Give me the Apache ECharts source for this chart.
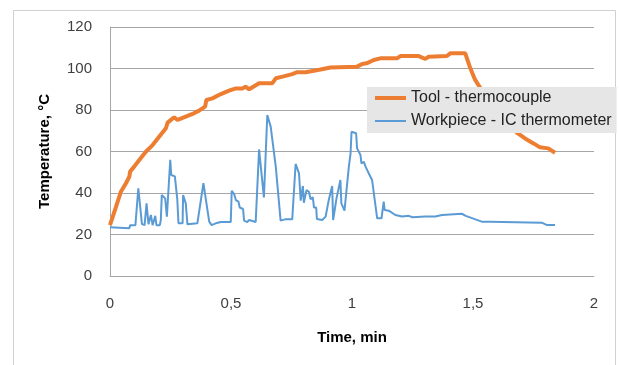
<!DOCTYPE html>
<html lang="en">
<head>
    <meta charset="UTF-8">
    <title>Temperature</title>
    <script src="https://cdn.jsdelivr.net/npm/echarts@6/dist/echarts.min.js"></script>
    <style>
        html, body { margin: 0; padding: 0; background: #fff; }
    </style>
</head>
<body>
<div id="main" style="width:619px;height:365px;"></div>
<script>
    // time (min) and temperature (°C)
    let toolTime = [0, 0.025, 0.045, 0.066, 0.08, 0.083, 0.1, 0.121, 0.148, 0.176, 0.203, 0.231, 0.238, 0.265, 0.279,
        0.313, 0.341, 0.368, 0.393, 0.398, 0.423, 0.458, 0.492, 0.52, 0.547, 0.56, 0.575, 0.616, 0.671, 0.685, 0.713,
        0.753, 0.774, 0.808, 0.843, 0.87, 0.911, 1.021, 1.042, 1.06, 1.09, 1.117, 1.186, 1.2, 1.276, 1.303, 1.317,
        1.392, 1.406, 1.468, 1.489, 1.509, 1.55, 1.6, 1.65, 1.681, 1.715, 1.75, 1.777, 1.811, 1.839];
    let toolTemp = [24.5, 33.4, 40.6, 44.7, 47.9, 50.3, 52.7, 55.9, 59.9, 63.1, 67.1, 71.2, 73.9, 76.5, 75.2,
        76.8, 78.1, 79.7, 81.6, 84.8, 85.6, 87.7, 89.3, 90.4, 90.4, 91.2, 90, 92.9, 92.9, 95.3, 96.1,
        97.3, 98.2, 98.2, 98.9, 99.5, 100.5, 100.9, 102.2, 102.5, 104.1, 104.9, 104.9, 106, 106, 104.6, 105.7,
        106, 107.3, 107.3, 100.1, 94.5, 87, 79, 72.5, 69.1, 66.3, 63.9, 62, 61.5, 59.4];

    let workTime = [0, 0.08, 0.083, 0.105, 0.117, 0.132, 0.143, 0.151, 0.159, 0.169, 0.176, 0.187, 0.192, 0.206,
        0.21, 0.214, 0.228, 0.235, 0.249, 0.253, 0.268, 0.278, 0.283, 0.3, 0.302, 0.313, 0.32, 0.361, 0.386, 0.41,
        0.42, 0.437, 0.458, 0.499, 0.503, 0.513, 0.52, 0.531, 0.536, 0.55, 0.554, 0.567, 0.575, 0.602, 0.616, 0.636,
        0.65, 0.664, 0.685, 0.705, 0.723, 0.753, 0.767, 0.781, 0.788, 0.797, 0.801, 0.808, 0.812, 0.822, 0.829,
        0.838, 0.843, 0.852, 0.855, 0.877, 0.891, 0.904, 0.918, 0.922, 0.936, 0.952, 0.956, 0.969, 0.987, 0.994,
        0.998, 1.017, 1.021, 1.035, 1.039, 1.049, 1.056, 1.069, 1.083, 1.094, 1.104, 1.122, 1.131, 1.135, 1.152,
        1.179, 1.207, 1.234, 1.25, 1.303, 1.344, 1.372, 1.454, 1.47, 1.536, 1.571, 1.784, 1.804, 1.839];
    let workTemp = [23.5, 23, 24.5, 24.5, 42.3, 25, 24.5, 35, 25, 29.4, 24.5, 29, 24.5, 24.5,
        27, 39, 37.4, 28.6, 56, 48.7, 48, 37, 25.4, 25.4, 39, 35, 24.9, 25.4, 44.7, 26.2,
        24.5, 25.4, 26, 26, 41.1, 39.5, 36.6, 35.8, 33, 32.3, 26.7, 26, 27, 26, 61, 37.9,
        77.6, 72, 52.7, 26.7, 27.3, 27.3, 54, 49.5, 36.3, 43.4, 35.3, 35.3, 41.4, 40.6, 37,
        38, 33, 33, 27.5, 27, 28.6, 36.6, 43.4, 27, 37.4, 46.3, 35, 31.5, 52.7, 59,
        69.5, 68.8, 61.5, 58.3, 54.3, 55, 52.7, 49.5, 46.3, 36.6, 27.8, 27.8, 35.8, 31.8, 31.5,
        29.4, 28.7, 29, 28.3, 28.7, 28.7, 29.4, 30, 29, 26.2, 26.2, 25.7, 24.6, 24.6];

    let seriesNames = ['Tool - thermocouple', 'Workpiece - IC thermometer'];

    function zip(a, b) {
        return a.map((v, i) => [v, b[i]]);
    }

    const FONT = 'Liberation Sans';
    let myChart = echarts.init(document.getElementById('main'), null, {renderer: 'canvas'});

    let option = {
        animation: false,
        backgroundColor: '#fff',
        textStyle: {fontFamily: FONT},
        graphic: [{
            type: 'rect',
            shape: {x: 13.5, y: 10.5, width: 602, height: 400},
            style: {fill: 'none', stroke: '#d0d0d0', lineWidth: 1},
            silent: true
        }],
        grid: {left: 110, top: 27, right: 25, bottom: 89},
        legend: {
            orient: 'vertical',
            left: 367,
            top: 87,
            padding: [3, 5, 4, 6],
            itemGap: 7,
            itemWidth: 31,
            itemHeight: 14,
            backgroundColor: '#e6e6e6',
            itemStyle: {opacity: 0},
            data: [
                {name: seriesNames[0], lineStyle: {width: 4}},
                {name: seriesNames[1], lineStyle: {width: 2}}
            ],
            textStyle: {fontFamily: FONT, fontSize: 16, color: '#222'}
        },
        xAxis: {
            type: 'value',
            min: 0,
            max: 2,
            interval: 0.5,
            name: 'Time, min',
            nameLocation: 'middle',
            nameGap: 54,
            nameTextStyle: {fontFamily: FONT, fontSize: 15, fontWeight: 'bold', color: '#000'},
            axisLine: {lineStyle: {color: '#a6a6a6'}},
            axisTick: {show: false},
            splitLine: {show: false},
            axisLabel: {
                margin: 20,
                fontSize: 15,
                color: '#404040',
                formatter: v => String(v).replace('.', ',')
            }
        },
        yAxis: {
            type: 'value',
            min: 0,
            max: 120,
            interval: 20,
            name: 'Temperature, °C',
            nameLocation: 'middle',
            nameGap: 58,
            nameTextStyle: {fontFamily: FONT, fontSize: 15, fontWeight: 'bold', color: '#000'},
            axisLine: {show: true, lineStyle: {color: '#a6a6a6'}},
            axisTick: {show: false},
            splitLine: {lineStyle: {color: '#a6a6a6'}},
            axisLabel: {margin: 18, fontSize: 15, color: '#404040'}
        },
        series: [{
            name: seriesNames[0],
            type: 'line',
            symbol: 'none',
            data: zip(toolTime, toolTemp),
            lineStyle: {color: '#ED7D31', width: 4},
            itemStyle: {color: '#ED7D31'},
            z: 3
        }, {
            name: seriesNames[1],
            type: 'line',
            symbol: 'none',
            data: zip(workTime, workTemp),
            lineStyle: {color: '#5B9BD5', width: 2},
            itemStyle: {color: '#5B9BD5'},
            z: 2
        }]
    };
    myChart.setOption(option);
</script>
</body>
</html>
